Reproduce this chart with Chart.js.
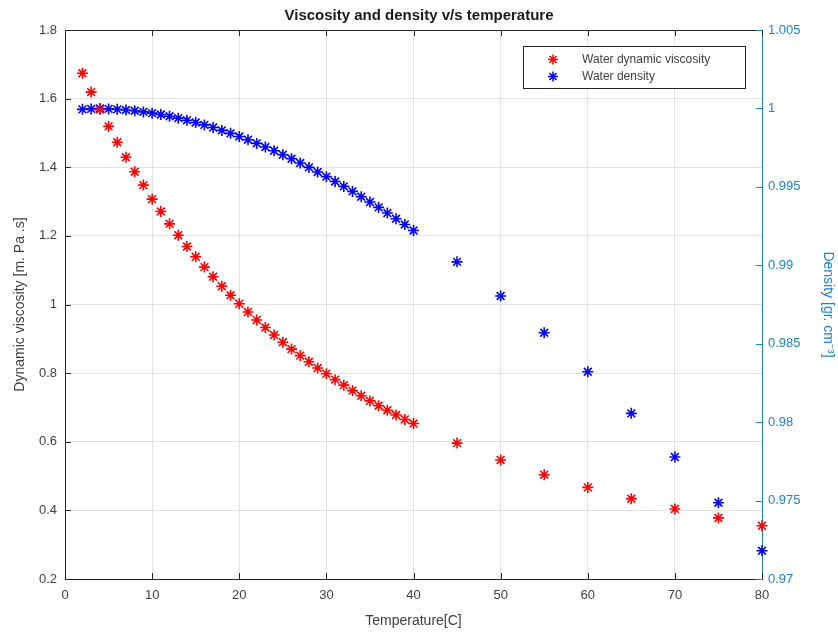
<!DOCTYPE html>
<html>
<head>
<meta charset="utf-8">
<script src="https://cdn.jsdelivr.net/npm/chart.js@4/dist/chart.umd.min.js"></script>
<style>
  body { margin: 0; background: #fff; }
  #wrap { width: 838px; height: 632px; }
</style>
</head>
<body>
<div id="wrap"><canvas id="chart" width="838" height="632"></canvas></div>
<script>
// temperatures [C]
const temps = [2, 3, 4, 5, 6, 7, 8, 9, 10, 11, 12, 13, 14, 15, 16, 17, 18, 19, 20, 21,
    22, 23, 24, 25, 26, 27, 28, 29, 30, 31, 32, 33, 34, 35, 36, 37, 38, 39, 40,
    45, 50, 55, 60, 65, 70, 75, 80];

// dynamic viscosity [mPa.s]
const viscosity = [1.674, 1.619, 1.568, 1.519, 1.473, 1.429, 1.387, 1.348, 1.307, 1.271,
    1.235, 1.202, 1.169, 1.139, 1.109, 1.081, 1.053, 1.027, 1.002, 0.978,
    0.955, 0.933, 0.911, 0.890, 0.870, 0.851, 0.833, 0.815, 0.798, 0.781,
    0.765, 0.749, 0.734, 0.719, 0.705, 0.692, 0.678, 0.665, 0.653,
    0.596, 0.547, 0.504, 0.467, 0.434, 0.404, 0.378, 0.355];

// density [g/cm3]
const density = [0.99994, 0.99997, 1.00000, 0.99997, 0.99994, 0.99990, 0.99985, 0.99978, 0.99970, 0.99961,
    0.99950, 0.99938, 0.99925, 0.99910, 0.99895, 0.99878, 0.99860, 0.99841, 0.99821, 0.99800,
    0.99777, 0.99754, 0.99730, 0.99705, 0.99679, 0.99652, 0.99624, 0.99595, 0.99565, 0.99534,
    0.99503, 0.99471, 0.99437, 0.99403, 0.99369, 0.99333, 0.99297, 0.99260, 0.99222,
    0.99022, 0.98804, 0.98570, 0.98321, 0.98056, 0.97778, 0.97486, 0.97180];

const seriesLabels = ['Water dynamic viscosity', 'Water density'];

const FONT = "'Liberation Sans', Arial, sans-serif";
const TEXT = '#404040';
const RBLUE = '#1f82cf';

function pts(ys) {
    return temps.map((t, i) => ({ x: t, y: ys[i] }));
}

function fmt(d) {
    return v => String(Number(v.toFixed(d)));
}

// MATLAB-ish box: black top edge, inward ticks, legend box in the corner
const boxPlugin = {
    id: 'boxPlugin',
    afterDatasetsDraw(chart) {
        const { ctx, chartArea: a, scales } = chart;
        ctx.save();
        ctx.lineWidth = 1;
        ctx.strokeStyle = '#262626';
        ctx.beginPath();
        ctx.moveTo(a.left, a.top + 0.5);
        ctx.lineTo(a.right, a.top + 0.5);
        // inward ticks, left axis
        scales.y.ticks.forEach(t => {
            const py = Math.round(scales.y.getPixelForValue(t.value)) + 0.5;
            ctx.moveTo(a.left, py); ctx.lineTo(a.left + 6, py);
        });
        // inward ticks, bottom and top
        scales.x.ticks.forEach(t => {
            const px = Math.round(scales.x.getPixelForValue(t.value)) + 0.5;
            ctx.moveTo(px, a.bottom); ctx.lineTo(px, a.bottom - 6);
            ctx.moveTo(px, a.top); ctx.lineTo(px, a.top + 6);
        });
        ctx.stroke();
        ctx.strokeStyle = RBLUE;
        ctx.beginPath();
        scales.y1.ticks.forEach(t => {
            const py = Math.round(scales.y1.getPixelForValue(t.value)) + 0.5;
            ctx.moveTo(a.right, py); ctx.lineTo(a.right - 6, py);
        });
        ctx.stroke();

        // legend
        const lx = a.left + 458, ly = a.top + 16, lw = 222, lh = 42;
        ctx.fillStyle = '#fff';
        ctx.fillRect(lx, ly, lw, lh);
        ctx.strokeStyle = '#262626';
        ctx.strokeRect(lx + 0.5, ly + 0.5, lw, lh);
        ctx.font = '12px ' + FONT;
        ctx.textBaseline = 'middle';
        chart.data.datasets.forEach((ds, i) => {
            const cy = ly + 13.5 + i * 17;
            ctx.strokeStyle = ds.borderColor;
            ctx.lineWidth = 1.5;
            Chart.helpers.drawPoint(ctx, { pointStyle: 'star', radius: 5, rotation: 0, borderWidth: 1.5 }, lx + 30, cy);
            ctx.fillStyle = TEXT;
            ctx.fillText(ds.label, lx + 59, cy);
        });
        ctx.restore();
    }
};

new Chart(document.getElementById('chart').getContext('2d'), {
    type: 'scatter',
    data: {
        datasets: [{
            label: seriesLabels[0],
            data: pts(viscosity),
            yAxisID: 'y',
            borderColor: '#ff0000',
            backgroundColor: '#ff0000',
            pointStyle: 'star',
            pointRadius: 5.5,
            pointBorderWidth: 1.6,
            clip: false
        }, {
            label: seriesLabels[1],
            data: pts(density),
            yAxisID: 'y1',
            borderColor: '#0000ff',
            backgroundColor: '#0000ff',
            pointStyle: 'star',
            pointRadius: 5.5,
            pointBorderWidth: 1.6,
            clip: false
        }]
    },
    options: {
        responsive: false,
        animation: false,
        layout: { padding: 0 },
        plugins: {
            legend: { display: false },
            tooltip: { enabled: false },
            title: {
                display: true,
                text: 'Viscosity and density v/s temperature',
                color: '#1a1a1a',
                font: { family: FONT, size: 15, weight: 'bold' },
                padding: { top: 7, bottom: 5 }
            }
        },
        scales: {
            x: {
                type: 'linear',
                min: 0, max: 80,
                afterFit: s => { s.height = 53; },
                ticks: { stepSize: 10, color: TEXT, font: { family: FONT, size: 13 }, padding: 9, maxRotation: 0 },
                grid: { color: '#e3e3e3', drawTicks: false },
                border: { color: '#262626', width: 1 },
                title: { display: true, text: 'Temperature[C]', color: TEXT, font: { family: FONT, size: 14 }, padding: { top: 4, bottom: 2 } }
            },
            y: {
                position: 'left',
                min: 0.2, max: 1.8,
                afterFit: s => { s.width = 65; },
                ticks: { stepSize: 0.2, color: TEXT, font: { family: FONT, size: 13 }, padding: 8, callback: fmt(1) },
                grid: { color: '#e3e3e3', drawTicks: false },
                border: { color: '#262626', width: 1 },
                title: { display: true, text: 'Dynamic viscosity [m. Pa .s]', color: TEXT, font: { family: FONT, size: 14 }, padding: { top: 12, bottom: 4 } }
            },
            y1: {
                position: 'right',
                min: 0.97, max: 1.005,
                afterFit: s => { s.width = 76; },
                ticks: { stepSize: 0.005, color: RBLUE, font: { family: FONT, size: 13 }, padding: 6, callback: fmt(3) },
                grid: { display: false, drawTicks: false },
                border: { color: RBLUE, width: 1 },
                title: { display: true, text: 'Density [gr. cm\u207B\u00B3]', color: RBLUE, font: { family: FONT, size: 14 }, padding: { top: 2, bottom: 2 } }
            }
        }
    },
    plugins: [boxPlugin]
});
</script>
</body>
</html>
